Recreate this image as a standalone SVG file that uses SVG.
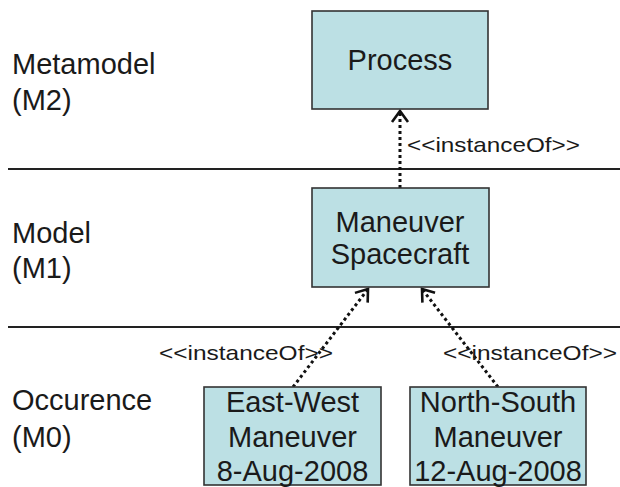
<svg xmlns="http://www.w3.org/2000/svg" width="620" height="487" viewBox="0 0 620 487">
<style>
.box{fill:#BCE0E4;stroke:#333;stroke-width:1.6}
.t{font-family:"Liberation Sans",Arial,sans-serif;font-size:29px;fill:#1a1a1a}
.lbl{font-family:"Liberation Sans",Arial,sans-serif;font-size:21px;fill:#1a1a1a}
.sep{stroke:#222;stroke-width:2}
.dep{stroke:#111;stroke-width:3;stroke-dasharray:3 3;fill:none;marker-end:url(#open)}
</style>
<defs>
<marker id="open" markerUnits="userSpaceOnUse" markerWidth="30" markerHeight="30" viewBox="-15 -15 30 30" refX="0" refY="0" orient="auto">
<path d="M-11,-8 L0,0 L-11,8" fill="none" stroke="#111" stroke-width="2.6"/>
</marker>
</defs>
<rect width="620" height="487" fill="#fff"/>
<g id="levels">
<line class="sep" x1="8" y1="169" x2="620" y2="169"/>
<line class="sep" x1="8" y1="327" x2="620" y2="327"/>
<text class="t" x="12" y="74">Metamodel</text>
<text class="t" x="12" y="110">(M2)</text>
<text class="t" x="12" y="243">Model</text>
<text class="t" x="12" y="278">(M1)</text>
<text class="t" x="12" y="410">Occurence</text>
<text class="t" x="12" y="447">(M0)</text>
</g>
<g id="connectors">
<path class="dep" d="M400,188 L400,111"/>
<path class="dep" d="M293,387 L368,289"/>
<path class="dep" d="M498,387 L422,289"/>
<text class="lbl" x="407" y="152" textLength="173" lengthAdjust="spacingAndGlyphs">&lt;&lt;instanceOf&gt;&gt;</text>
<text class="lbl" x="159" y="360" textLength="174" lengthAdjust="spacingAndGlyphs">&lt;&lt;instanceOf&gt;&gt;</text>
<text class="lbl" x="443" y="360" textLength="174" lengthAdjust="spacingAndGlyphs">&lt;&lt;instanceOf&gt;&gt;</text>
</g>
<g id="process">
<rect class="box" x="312" y="11" width="176" height="98"/>
<text class="t" x="400" y="70" text-anchor="middle">Process</text>
</g>
<g id="maneuver-spacecraft">
<rect class="box" x="312" y="188" width="177" height="99"/>
<text class="t" x="400" y="232" text-anchor="middle">Maneuver</text>
<text class="t" x="400" y="264" text-anchor="middle">Spacecraft</text>
</g>
<g id="east-west">
<rect class="box" x="204" y="387" width="177" height="98"/>
<text class="t" x="292.5" y="412" text-anchor="middle">East-West</text>
<text class="t" x="292.5" y="447" text-anchor="middle">Maneuver</text>
<text class="t" x="292.5" y="481" text-anchor="middle">8-Aug-2008</text>
</g>
<g id="north-south">
<rect class="box" x="410" y="387" width="176" height="98"/>
<text class="t" x="498" y="412" text-anchor="middle">North-South</text>
<text class="t" x="498" y="447" text-anchor="middle">Maneuver</text>
<text class="t" x="498" y="481" text-anchor="middle">12-Aug-2008</text>
</g>
</svg>
